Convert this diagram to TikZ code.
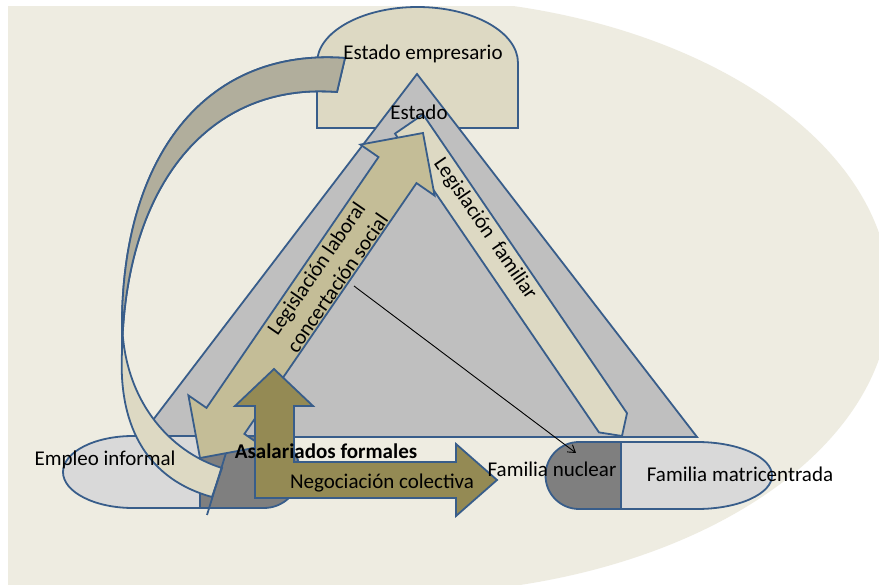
\documentclass[tikz,border=0pt]{standalone}
\usepackage{fontspec}
\setmainfont{Carlito}
\usetikzlibrary{arrows.meta}
\definecolor{bgtan}{HTML}{EEECE1}
\definecolor{tanlight}{HTML}{DDD9C3}
\definecolor{tanmid}{HTML}{C4BD97}
\definecolor{tandark}{HTML}{948A54}
\definecolor{tanshade}{HTML}{B1AE9C}
\definecolor{grayA}{HTML}{BFBFBF}
\definecolor{grayL}{HTML}{D9D9D9}
\definecolor{grayD}{HTML}{7F7F7F}
\definecolor{edgeblue}{HTML}{385D8A}

\begin{document}
\begin{tikzpicture}[x=1pt,y=-1pt,
  outl/.style={draw=edgeblue, line width=1.8pt, line join=miter},
  lbl/.style={inner sep=0pt, font=\fontsize{21}{25.6}\selectfont, text=black},
]
\useasboundingbox (0,0) rectangle (879,585);
\fill[white] (0,0) rectangle (879,585);

% background panel: rectangle on the left, half ellipse on the right
\begin{scope}
  \clip (8,7) rectangle (879,585);
  \fill[bgtan] (8,0) rectangle (400,600);
  \fill[bgtan] (400,296) ellipse [x radius=490, y radius=298];
\end{scope}

% Estado empresario
\filldraw[outl, fill=tanlight] (317,128) -- (317,63)
  arc[start angle=180, end angle=360, x radius=100.5, y radius=56] -- (518,128) -- cycle;

% main triangle
\filldraw[outl, fill=grayA] (417,74) -- (697,437) -- (140,437) -- cycle;

% left capsule
\filldraw[outl, fill=grayL] (200,436) -- (133,436)
  arc[start angle=270, end angle=90, x radius=70, y radius=36] -- (200,508) -- cycle;
\filldraw[outl, fill=grayD] (200,436) -- (264,436)
  arc[start angle=270, end angle=450, radius=36] -- (200,508) -- cycle;

% right capsule
\filldraw[outl, fill=grayD] (621,442) -- (579,442)
  arc[start angle=270, end angle=90, radius=33.5] -- (621,509) -- cycle;
\filldraw[outl, fill=grayL] (621,442) -- (697,442)
  arc[start angle=270, end angle=450, x radius=75, y radius=33.5] -- (621,509) -- cycle;

% curved arrow: whole band (front face)
\filldraw[outl, fill=tanlight]
  (345,58) .. controls (210,48) and (125,150) .. (122,318)
  .. controls (122,400) and (170,452) .. (222,468)
  -- (212,497) .. controls (150,480) and (118,430) .. (122,352)
  .. controls (125,184) and (210,82) .. (337,92) -- cycle;
% curved arrow: shaded back face
\filldraw[outl, fill=tanshade]
  (345,58) .. controls (210,48) and (125,150) .. (122,318)
  -- (122,352) .. controls (125,184) and (210,82) .. (337,92) -- cycle;
\draw[outl] (233,430) -- (207,515);

% Legislacion familiar
\filldraw[outl, fill=tanlight] (395,133.6) -- (423,114.4) -- (627,413.2)
  -- (622,436) -- (599,432.4) -- cycle;

% Legislacion laboral (double arrow)
\filldraw[outl, fill=tanmid] (423,133) -- (434.6,195.6) -- (416.5,183.1)
  -- (244.4,433.9) -- (262.6,446.4) -- (200,458) -- (188.4,395.4)
  -- (206.5,407.9) -- (378.5,157.1) -- (360.4,144.6) -- cycle;

% Asalariados formales / negociacion colectiva (up and right arrow)
\filldraw[outl, fill=tandark] (274,369) -- (313,406) -- (294,406) -- (294,462)
  -- (456,462) -- (456,444) -- (497,480) -- (456,516) -- (456,498)
  -- (255,498) -- (255,406) -- (235,406) -- cycle;

% labels
\node[lbl, anchor=base] (empresario) at (423,60) {Estado empresario};
\node[lbl, anchor=base] (estado) at (419,120) {Estado};
\node[lbl, rotate=55.5, align=center] (laboral) at (326.6,275.7)
  {Legislación laboral\\concertación social};
\node[lbl, rotate=-55.7] (familiar) at (485,229) {Legislación\ \ familiar};
\node[lbl, anchor=base] (informal) at (105,465) {Empleo informal};
\node[lbl, anchor=base, font=\fontsize{21}{25.6}\selectfont\bfseries] (asalariados) at (326,458) {Asalariados formales};
\node[lbl, anchor=base] (negociacion) at (382,489) {Negociación colectiva};
\node[lbl, anchor=base] (nuclear) at (552,476) {Familia nuclear};
\node[lbl, anchor=base] (matri) at (740,482) {Familia matricentrada};

% pointer to the nuclear family
\coordinate (ptrstart) at (354,286);
\coordinate (ptrend) at (576,453);
\draw[line width=0.9pt, -{Straight Barb[length=7pt, width=9pt]}] (ptrstart) -- (ptrend);
\end{tikzpicture}
\end{document}
